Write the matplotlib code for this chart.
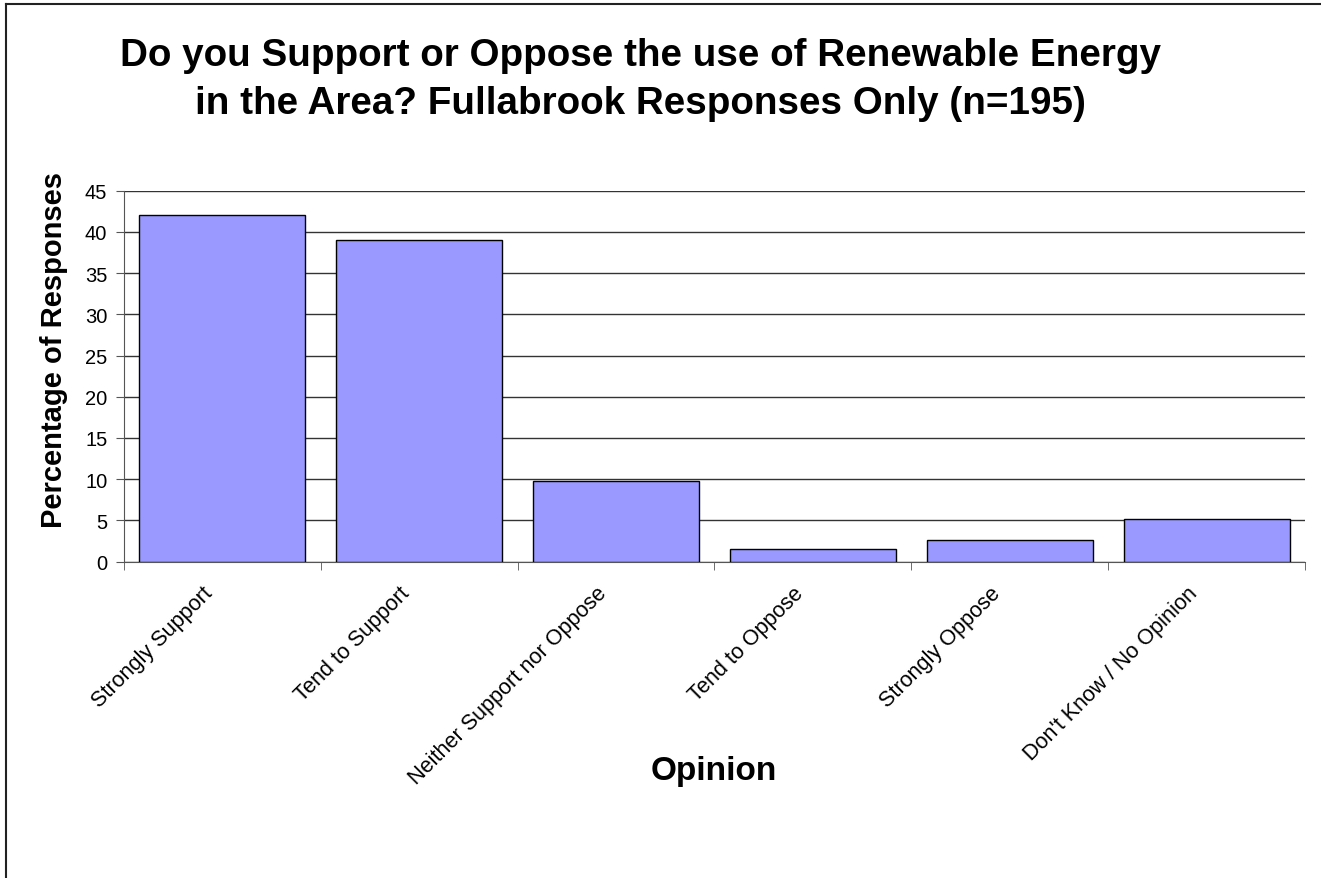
import matplotlib
matplotlib.use("Agg")
import matplotlib.pyplot as plt
from matplotlib.lines import Line2D
from matplotlib.transforms import ScaledTranslation
import numpy as np

categories = ["Strongly Support", "Tend to Support", "Neither Support nor Oppose",
              "Tend to Oppose", "Strongly Oppose", "Don't Know / No Opinion"]
values = [42.05, 38.97, 9.74, 1.54, 2.56, 5.13]
yticks = [0, 5, 10, 15, 20, 25, 30, 35, 40, 45]

plt.rcParams['font.family'] = ['Liberation Sans', 'DejaVu Sans']

W, H = 1321, 879
fig = plt.figure(figsize=(W/100, H/100), dpi=100)
# border (left and top visible in the reference)
fig.add_artist(Line2D([6/W, 6/W], [0, 1 - 5/H], transform=fig.transFigure, color='#222222', linewidth=1.5))
fig.add_artist(Line2D([6/W, 1], [1 - 5/H, 1 - 5/H], transform=fig.transFigure, color='#222222', linewidth=1.5))

ax = fig.add_axes([124/W, 1 - 562.5/H, (1305-124)/W, (562.5-191.7)/H])
x = np.arange(len(categories))
ax.bar(x, values, width=0.843, color='#9999FF', edgecolor='black', linewidth=1, zorder=3)
ax.set_xlim(-0.5, len(categories) - 0.5)
ax.set_ylim(0, 45)
ax.set_yticks(yticks)
ax.yaxis.grid(True, color='#333333', linewidth=1, zorder=0)
ax.set_axisbelow(True)
for s in ['top', 'right']:
    ax.spines[s].set_visible(False)
ax.spines['left'].set_color('#555555')
ax.spines['bottom'].set_color('#555555')
ax.tick_params(axis='y', direction='out', length=6, labelsize=14.5, color='#555555', pad=6)

ax.set_xticks(x)
ax.set_xticklabels(categories, rotation=45, ha='right', va='top', rotation_mode='anchor', fontsize=15.6)
ax.tick_params(axis='x', which='major', length=0, pad=15)
offset = ScaledTranslation(-20/100, 0, fig.dpi_scale_trans)
for lab in ax.get_xticklabels():
    lab.set_transform(lab.get_transform() + offset)
ax.set_xticks(np.arange(-0.5, len(categories)), minor=True)
ax.tick_params(axis='x', which='minor', direction='out', length=6, color='#555555')

fig.text(54/W, 1 - 350/H, "Percentage of Responses", rotation=90, ha='center', va='center',
         fontsize=21, fontweight='bold')
fig.text(714/W, 1 - 772/H, "Opinion", ha='center', va='center', fontsize=24, fontweight='bold')
fig.text(640/W, 1 - 80/H, "Do you Support or Oppose the use of Renewable Energy\nin the Area? Fullabrook Responses Only (n=195)",
         ha='center', va='center', fontsize=27.8, fontweight='bold', linespacing=1.45)

fig.savefig("out.png", dpi=100)
